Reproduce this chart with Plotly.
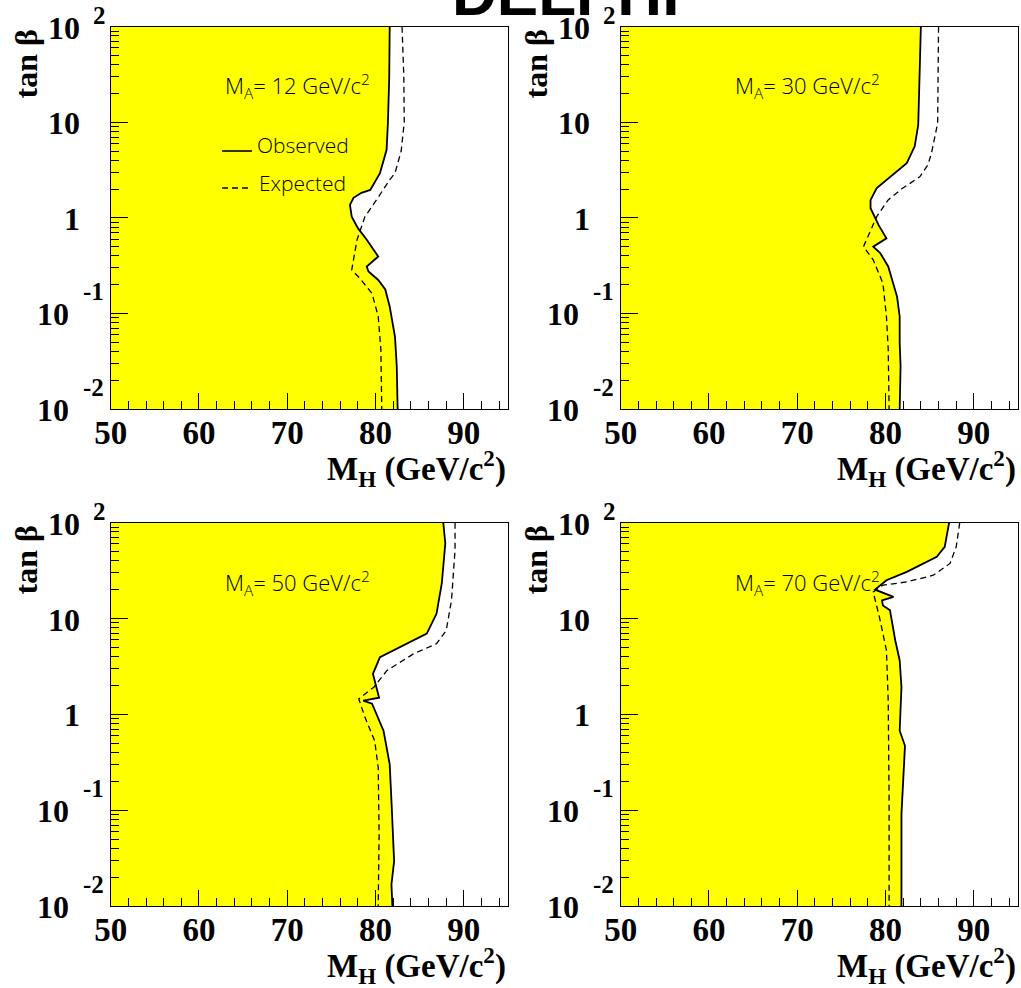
import math
import plotly.graph_objects as go

# ---- data: 95% CL exclusion contours in the (M_H, tan beta) plane ----
MA_VALUES = [12, 30, 50, 70]

OBS12_X = [81.6, 81.55, 81.4, 81.25, 80.5, 79.4, 78.4, 77.5, 77.1, 77.3, 78.0, 79.0, 80.3, 79.0, 79.2, 80.3, 81.1, 81.6, 82.2, 82.4, 82.5]
OBS12_Y = [100, 30, 10, 5.15, 2.94, 1.96, 1.83, 1.62, 1.37, 1.03, 0.78, 0.59, 0.394, 0.31, 0.275, 0.224, 0.178, 0.118, 0.057, 0.028, 0.01]
EXP12_X = [83.0, 83.2, 83.25, 82.9, 82.2, 81.6, 80.1, 78.8, 77.9, 77.3, 78.2, 79.6, 80.3, 80.6, 80.7]
EXP12_Y = [100, 30, 10, 5.0, 2.94, 2.5, 1.54, 1.03, 0.59, 0.286, 0.234, 0.162, 0.093, 0.042, 0.01]

OBS30_X = [84.0, 83.8, 83.7, 83.3, 82.4, 79.0, 78.3, 78.3, 79.2, 80.1, 78.6, 79.4, 80.3, 81.3, 81.6, 81.6, 81.7, 81.6]
OBS30_Y = [100, 20.2, 9.4, 5.6, 3.74, 2.05, 1.54, 1.26, 0.845, 0.61, 0.5, 0.427, 0.31, 0.15, 0.093, 0.049, 0.028, 0.01]
EXP30_X = [86.0, 85.9, 85.2, 84.8, 83.9, 81.8, 80.3, 79.0, 77.5, 78.6, 79.7, 80.1, 80.3, 80.4, 80.4]
EXP30_Y = [100, 9.8, 4.76, 3.59, 2.7, 2.0, 1.54, 1.03, 0.5, 0.363, 0.207, 0.093, 0.042, 0.018, 0.01]

OBS50_X = [87.67, 87.9, 87.5, 86.9, 85.8, 83.5, 80.5, 79.7, 80.1, 80.4, 78.6, 79.6, 80.9, 81.6, 81.8, 82.1, 81.8, 81.9]
OBS50_Y = [100, 60.8, 23.2, 11.2, 6.95, 5.46, 3.95, 2.65, 1.92, 1.49, 1.39, 1.29, 0.675, 0.302, 0.125, 0.0294, 0.0168, 0.01]
EXP50_X = [89.0, 89.0, 88.6, 88.0, 86.9, 84.3, 81.3, 79.8, 78.1, 78.8, 79.9, 80.3, 80.4, 80.3]
EXP50_Y = [100, 51.8, 15.5, 7.5, 5.46, 4.28, 2.87, 1.92, 1.45, 0.93, 0.53, 0.279, 0.056, 0.01]

OBS70_X = [87.2, 86.7, 85.8, 82.4, 80.1, 78.8, 80.9, 79.6, 79.7, 80.5, 81.1, 81.6, 81.8, 81.6, 82.2, 81.8, 81.8]
OBS70_Y = [100, 56, 44, 30.7, 25.1, 20, 16.8, 15.5, 13.7, 12.2, 5.9, 3.65, 1.92, 0.675, 0.47, 0.0906, 0.01]
EXP70_X = [88.4, 88.0, 87.3, 85.4, 82.4, 79.7, 78.6, 79.3, 80.1, 80.3, 80.4, 80.4]
EXP70_Y = [100, 56, 37.6, 28.3, 24.1, 22.3, 18.9, 10.4, 4.65, 1.39, 0.125, 0.01]

OBSERVED = [(OBS12_X, OBS12_Y), (OBS30_X, OBS30_Y), (OBS50_X, OBS50_Y), (OBS70_X, OBS70_Y)]
EXPECTED = [(EXP12_X, EXP12_Y), (EXP30_X, EXP30_Y), (EXP50_X, EXP50_Y), (EXP70_X, EXP70_Y)]

# ---- axes ----
X_RANGE = [50, 95]
X_TICKS = [50, 60, 70, 80, 90]
Y_TICKS = [0.01, 0.1, 1, 10, 100]
Y_TICK_BASE = ["10", "10", "1", "10", "10"]
Y_TICK_EXP = ["-2", "-1", "", "", "2"]
Y_MINOR = [k * 10.0 ** d for d in range(-2, 2) for k in range(2, 10)]

W, H = 1021, 988
# panel boxes in pixels: (left, right, top, bottom)
PANELS = [
    (110.7, 508.0, 26.7, 409.0),
    (620.7, 1018.0, 26.7, 409.0),
    (110.7, 508.0, 522.7, 906.0),
    (620.7, 1018.0, 522.7, 906.0),
]

SERIF = "Liberation Serif"
SANS = "Liberation Sans"
THIN = "Open Sans"
YELLOW = "#FFFF00"

fig = go.Figure()
layout = dict(
    width=W, height=H,
    margin=dict(l=0, r=0, t=0, b=0, autoexpand=False),
    paper_bgcolor="white", plot_bgcolor="white",
    showlegend=False,
)
annotations = []
shapes = []

for i, (left, right, top, bottom) in enumerate(PANELS):
    n = "" if i == 0 else str(i + 1)
    xa, ya = "x" + n, "y" + n
    pw, ph = right - left, bottom - top

    layout["xaxis" + n] = dict(
        domain=[left / W, right / W], anchor=ya, range=X_RANGE,
        showgrid=False, zeroline=False, automargin=False,
        showline=True, linecolor="black", linewidth=1, mirror=True,
        ticks="inside", ticklen=16, tickwidth=1, tickcolor="black",
        tickvals=X_TICKS, ticktext=[str(v) for v in X_TICKS],
        tickfont=dict(family=SERIF, size=33, color="black", weight="bold"),
        ticklabelstandoff=-6,
        minor=dict(ticks="inside", ticklen=8, tickwidth=1, tickcolor="black", dtick=2, tick0=50),
    )
    layout["yaxis" + n] = dict(
        domain=[1 - bottom / H, 1 - top / H], anchor=xa, type="log",
        range=[math.log10(Y_TICKS[0]), math.log10(Y_TICKS[-1])],
        showgrid=False, zeroline=False, automargin=False,
        showline=True, linecolor="black", linewidth=1, mirror=True,
        ticks="inside", ticklen=17, tickwidth=1, tickcolor="black",
        tickvals=Y_TICKS, showticklabels=False,
        minor=dict(ticks="inside", ticklen=8, tickwidth=1, tickcolor="black", tickvals=Y_MINOR),
    )

    ox, oy = OBSERVED[i]
    ex, ey = EXPECTED[i]
    # excluded region: filled to the left of the observed contour
    fig.add_trace(go.Scatter(
        x=ox, y=oy, xaxis=xa, yaxis=ya, mode="lines",
        line=dict(color="black", width=1.8),
        fill="tozerox", fillcolor=YELLOW,
    ))
    fig.add_trace(go.Scatter(
        x=ex, y=ey, xaxis=xa, yaxis=ya, mode="lines",
        line=dict(color="black", width=1.3, dash="6px,4px"),
    ))

    xd, yd = xa + " domain", ya + " domain"

    # y tick labels with raised exponents
    for v, base, ex_txt in zip(Y_TICKS, Y_TICK_BASE, Y_TICK_EXP):
        ly = math.log10(v)
        top_label = v == Y_TICKS[-1]
        base_shift = -29 if (ex_txt == "" or top_label) else -40
        annotations.append(dict(
            x=0, y=ly, xref=xd, yref=ya, text=base, showarrow=False,
            xanchor="right", yanchor="middle", xshift=base_shift, yshift=-1,
            font=dict(family=SERIF, size=32, color="black", weight="bold"),
        ))
        if ex_txt:
            annotations.append(dict(
                x=0, y=ly, xref=xd, yref=ya, text=ex_txt, showarrow=False,
                xanchor="left", yanchor="middle",
                xshift=-20 if top_label else -30, yshift=11 if top_label else 22,
                font=dict(family=SERIF, size=25, color="black", weight="bold"),
            ))

    # axis titles
    annotations.append(dict(
        x=0, y=1 - 37 / ph, xref=xd, yref=yd, text="tan β", showarrow=False,
        textangle=-90, xanchor="center", yanchor="middle", xshift=-85,
        font=dict(family=SERIF, size=32, color="black", weight="bold"),
    ))
    annotations.append(dict(
        x=1, y=-59 / ph, xref=xd, yref=yd,
        text="M<sub>H</sub> (GeV/c<sup>2</sup>)", showarrow=False,
        xanchor="right", yanchor="middle",
        font=dict(family=SERIF, size=33, color="black", weight="bold"),
    ))

    # panel label
    annotations.append(dict(
        x=(223 - 110.7) / pw, y=(409 - 87) / 382.3, xref=xd, yref=yd,
        text=f"M<sub>A</sub>= {MA_VALUES[i]} GeV/c<sup>2</sup>", showarrow=False,
        xanchor="left", yanchor="middle",
        font=dict(family=THIN, size=22, color="black", weight=300),
    ))

# legend in the first panel
LEG_X0, LEG_X1 = (222 - 110.7) / 397.3, (252 - 110.7) / 397.3
shapes.append(dict(type="line", xref="x domain", yref="y domain",
                   x0=LEG_X0, x1=LEG_X1, y0=(409 - 151) / 382.3, y1=(409 - 151) / 382.3,
                   line=dict(color="black", width=1.6)))
shapes.append(dict(type="line", xref="x domain", yref="y domain",
                   x0=LEG_X0, x1=LEG_X1, y0=(409 - 188) / 382.3, y1=(409 - 188) / 382.3,
                   line=dict(color="black", width=1.3, dash="6px,4px")))
annotations.append(dict(x=(255 - 110.7) / 397.3, y=(409 - 145) / 382.3, xref="x domain", yref="y domain",
                        text="Observed", showarrow=False, xanchor="left", yanchor="middle",
                        font=dict(family=THIN, size=21, color="black", weight=300)))
annotations.append(dict(x=(257 - 110.7) / 397.3, y=(409 - 183) / 382.3, xref="x domain", yref="y domain",
                        text="Expected", showarrow=False, xanchor="left", yanchor="middle",
                        font=dict(family=THIN, size=21, color="black", weight=300)))

# experiment name across the top
annotations.append(dict(
    x=565 / W, y=1 + 7 / H, xref="paper", yref="paper", text="DELPHI", showarrow=False,
    xanchor="center", yanchor="middle",
    font=dict(family=SANS, size=62, color="black", weight="bold"),
))

layout["annotations"] = annotations
layout["shapes"] = shapes
fig.update_layout(**layout)
fig.write_html("out.html")
